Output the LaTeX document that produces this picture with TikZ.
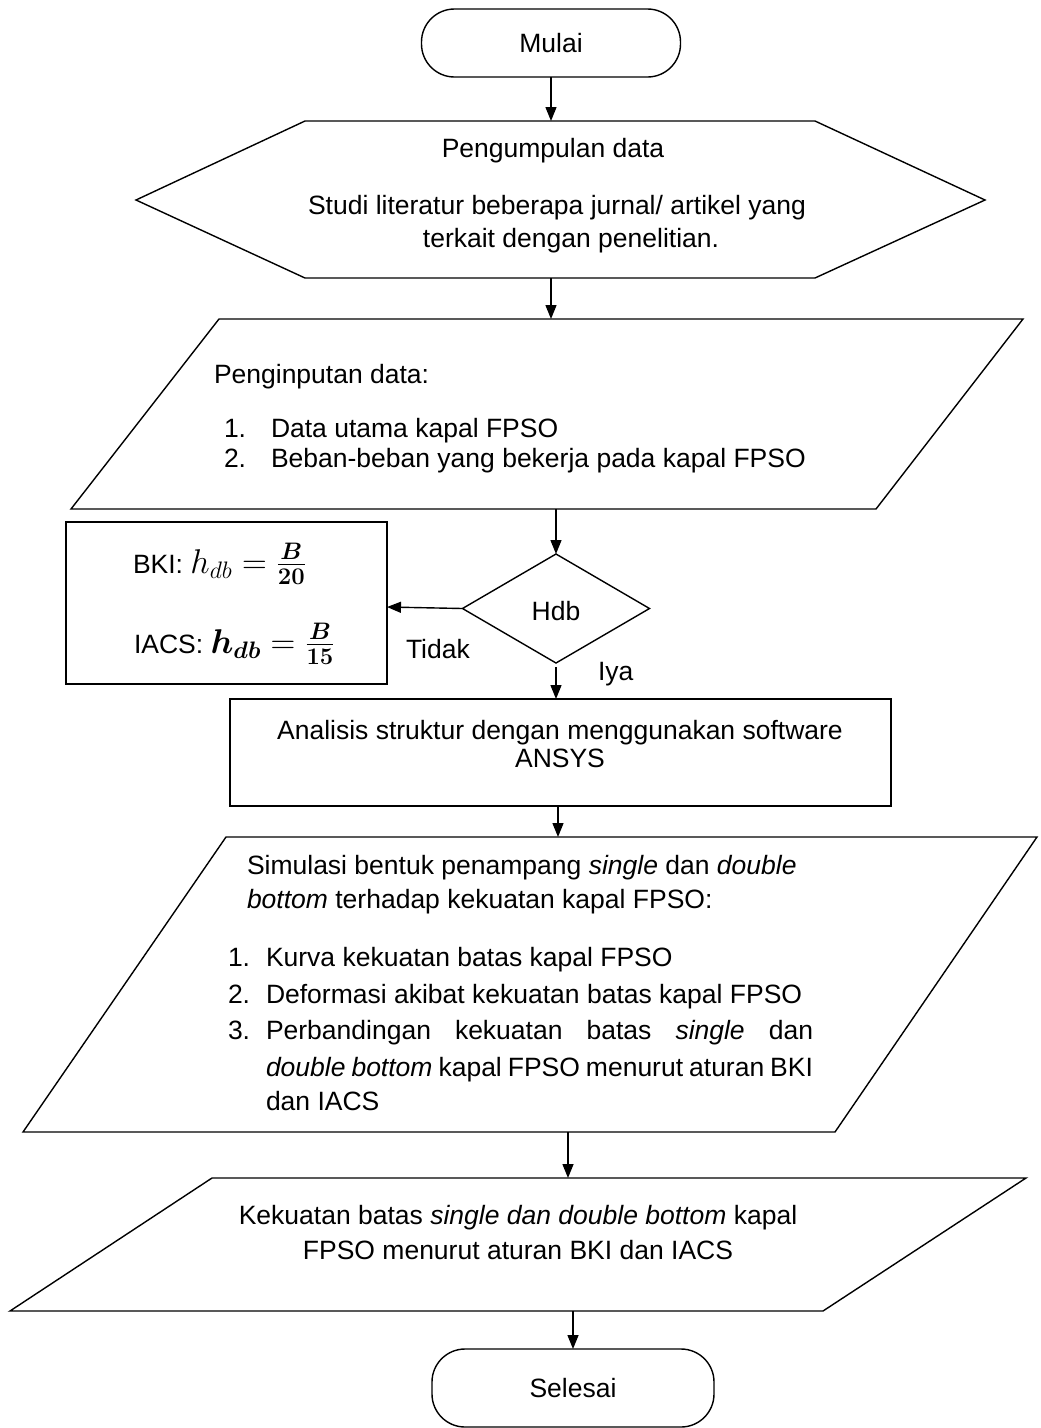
\documentclass[tikz,border=0pt]{standalone}
\usepackage{graphicx}
\usepackage{amsmath,bm}
\usepackage[no-math]{fontspec}
\setmainfont{Liberation Sans}
\usetikzlibrary{arrows.meta,shapes.geometric}
\newcommand{\bigmath}[1]{\scalebox{1.38}{#1}}
\begin{document}
\begin{tikzpicture}[x=1pt,y=-1pt,
  every node/.style={font=\fontsize{26.5}{30}\selectfont, inner sep=0pt, outer sep=0pt},
  shapeline/.style={draw, line width=1.4pt, line join=miter},
  arr/.style={draw, line width=1.4pt, -{Triangle[width=11pt,length=14pt]}},
  frame/.style={draw=none, rectangle, inner sep=0pt},
  term/.style={draw, line width=1.4pt, rounded corners=33pt, inner sep=0pt},
  boxnode/.style={draw, line width=1.4pt, rectangle, inner sep=0pt},
  lbl/.style={anchor=base west},
  clbl/.style={anchor=base},
]
\useasboundingbox (0,0) rectangle (1041,1428);

% x positions of some connectors
\coordinate (x551) at (551,0);
\coordinate (x558) at (558,0);
\coordinate (x568) at (568,0);

% Mulai
\node[term, minimum width=259pt, minimum height=68pt] (mulai) at (551,43) {Mulai};

% Hexagon: Pengumpulan data
\draw[shapeline] (136,200) -- (305,121) -- (815,121) -- (985,200) -- (815,278) -- (305,278) -- cycle;
\node[frame, minimum width=849pt, minimum height=157pt] (hex) at (560.5,199.5) {};
\node[clbl] (hexa) at (553,157) {Pengumpulan data};
\node[clbl] (hexb) at (557,214) {Studi literatur beberapa jurnal/ artikel yang};
\node[clbl] (hexc) at (571,247) {terkait dengan penelitian.};

% Parallelogram 1: Penginputan data
\draw[shapeline] (219,319) -- (1023,319) -- (876,509) -- (71,509) -- cycle;
\node[frame, minimum width=952pt, minimum height=190pt] (par1) at (547,414) {};
\node[lbl] (p1t) at (214,383) {Penginputan data:};
\node[lbl] (p1n1) at (224,437) {1.};
\node[lbl] (p1i1) at (271,437) {Data utama kapal FPSO};
\node[lbl] (p1n2) at (224,467) {2.};
\node[lbl] (p1i2) at (271,467) {Beban-beban yang bekerja pada kapal FPSO};

% Decision
\node[draw, line width=1.4pt, diamond, minimum width=187pt, minimum height=109pt, inner sep=0pt] (dia) at (556,608.5) {};
\node[clbl] (hdb) at (556,620) {Hdb};

% BKI / IACS box
\node[boxnode, minimum width=321pt, minimum height=162pt] (bki) at (226.5,603) {};
\node[lbl] (bkit) at (133,573) {BKI: \bigmath{$h_{db} = \frac{\bm{B}}{\mathbf{20}}$}};
\node[lbl] (iacst) at (134,653) {IACS: \bigmath{$\bm{h}_{\bm{db}} = \frac{\bm{B}}{\mathbf{15}}$}};

\node[lbl] (tidak) at (406,658) {Tidak};
\node[lbl] (iya) at (598,680) {Iya};

% Analisis box
\node[boxnode, minimum width=661pt, minimum height=107pt] (ana) at (560.5,752.5) {};
\node[clbl] (anaa) at (560,739) {Analisis struktur dengan menggunakan software};
\node[clbl] (anab) at (560,767) {ANSYS};

% Parallelogram 2: Simulasi
\draw[shapeline] (226,837) -- (1037,837) -- (835,1132) -- (23,1132) -- cycle;
\node[frame, minimum width=1014pt, minimum height=295pt] (par2) at (530,984.5) {};
\node[lbl] (p2a) at (247,874) {Simulasi bentuk penampang \textit{single} dan \textit{double}};
\node[lbl] (p2b) at (247,908) {\textit{bottom} terhadap kekuatan kapal FPSO:};
\node[lbl] (p2n1) at (228,966) {1.};
\node[lbl] (p2i1) at (266,966) {Kurva kekuatan batas kapal FPSO};
\node[lbl] (p2n2) at (228,1003) {2.};
\node[lbl] (p2i2) at (266,1003) {Deformasi akibat kekuatan batas kapal FPSO};
\node[lbl] (p2n3) at (228,1039) {3.};
\node[lbl] (p2i3a) at (266,1039) {\makebox[547pt][s]{Perbandingan kekuatan batas \textit{single} dan}};
\node[lbl] (p2i3b) at (266,1076) {\makebox[547pt][s]{\textit{double bottom} kapal FPSO menurut aturan BKI}};
\node[lbl] (p2i3c) at (266,1110) {dan IACS};

% Parallelogram 3: Kekuatan batas
\draw[shapeline] (212,1178) -- (1026,1178) -- (823,1311) -- (10,1311) -- cycle;
\node[frame, minimum width=1016pt, minimum height=133pt] (par3) at (518,1244.5) {};
\node[clbl] (p3a) at (518,1224) {Kekuatan batas \textit{single dan double bottom} kapal};
\node[clbl] (p3b) at (518,1259) {FPSO menurut aturan BKI dan IACS};

% Selesai
\node[term, minimum width=282pt, minimum height=78pt] (selesai) at (573,1388) {Selesai};

% Connectors
\draw[arr] (mulai.south) -- (mulai.south |- hex.north);
\draw[arr] (hex.south -| x551) -- (par1.north -| x551);
\draw[arr] (par1.south -| dia.north) -- (dia.north);
\draw[arr] (dia.west) -- ([yshift=-4pt]bki.east);
\draw[arr] ([yshift=-4pt]dia.south) -- (dia.south |- ana.north);
\draw[arr] (ana.south -| x558) -- (par2.north -| x558);
\draw[arr] (par2.south -| x568) -- (par3.north -| x568);
\draw[arr] (par3.south -| selesai.north) -- (selesai.north);
\end{tikzpicture}
\end{document}
